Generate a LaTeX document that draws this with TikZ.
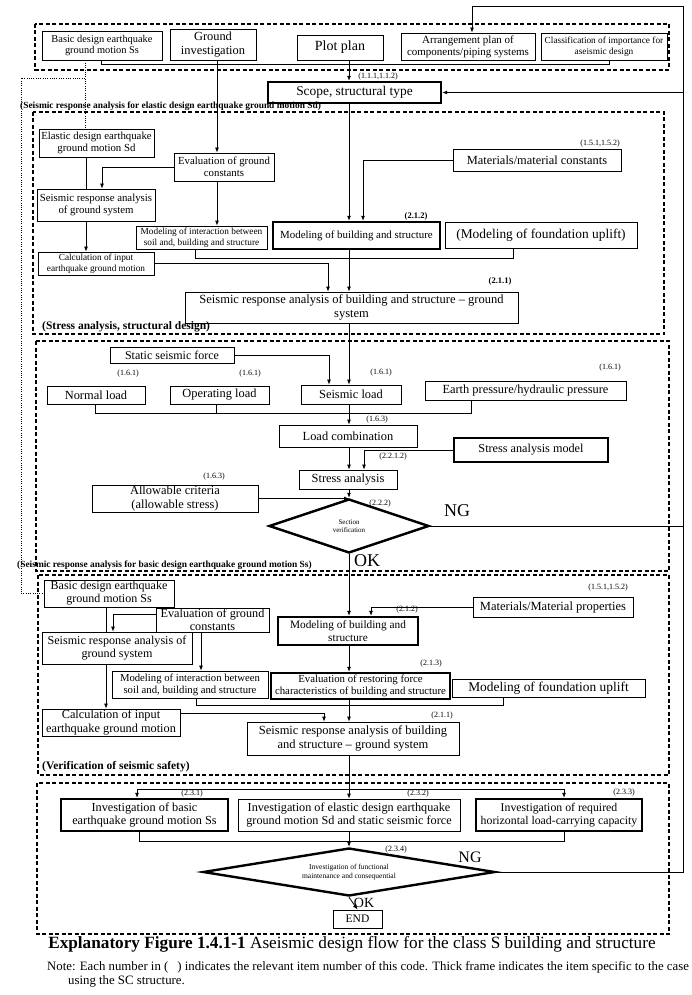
\documentclass[tikz,border=0pt]{standalone}
\usepackage{fontspec}
\setmainfont{Liberation Serif}
\usetikzlibrary{arrows.meta,shapes.geometric}
\newcommand\fs[2]{\fontsize{#1}{#2}\selectfont}
\newcommand\bx[7]{\node[#1, minimum width={(#5-#3)*1pt}, minimum height={(#6-#4)*1pt}] (#2) at ({(#3+#5)/2},{(#4+#6)/2}) {#7};}
\begin{document}
\begin{tikzpicture}[x=1pt,y=-1pt,
  bx/.style={draw,line width=0.8pt,align=center,inner sep=0pt,fill=white},
  tk/.style={draw,line width=2.4pt,align=center,inner sep=0pt,fill=white},
  cn/.style={line width=0.8pt},
  ar/.style={line width=0.8pt,-{Latex[length=5pt,width=4pt]}},
  dbox/.style={line width=1.3pt,dash pattern=on 4pt off 2.5pt},
  dt/.style={line width=0.7pt,dash pattern=on 1pt off 1.3pt},
  lbl/.style={inner sep=0pt,font=\fs{8}{9}},
  blbl/.style={inner sep=0pt,font=\bfseries\fs{9.4}{10},anchor=west},
  big/.style={inner sep=0pt,font=\fs{18}{20}},
  dia/.style={diamond,draw,line width=2.4pt,fill=white,inner sep=0pt,align=center},
]
\useasboundingbox (0,0) rectangle (691,995);
\fill[white] (0,0) rectangle (691,995);

% frames
\draw[dbox] (35,24) rectangle (669,70);
\draw[dbox] (33,112) rectangle (664,334);
\draw[dbox] (36,341) rectangle (669,571);
\draw[dbox] (38,575) rectangle (669,775);
\draw[dbox] (37,783) rectangle (669,934);

% ---------- top row
\bx{bx,font=\fs{10.4}{11.6}}{B1}{42}{31}{162}{60}{Basic design earthquake\\ground motion Ss}
\bx{bx,font=\fs{12.4}{13.4}}{B2}{170}{29}{256}{60}{Ground\\investigation}
\bx{bx,font=\fs{14}{15}}{B3}{297}{35}{383}{60}{Plot plan}
\bx{bx,font=\fs{11}{12}}{B4}{401}{33}{535}{60}{Arrangement plan of\\components/piping systems}
\bx{bx,font=\fs{9.3}{11}}{B5}{541}{33}{667}{60}{Classification of importance for\\aseismic design}
\bx{tk,font=\fs{13.4}{14}}{Sc}{268}{82}{441}{103}{Scope, structural type}
\node[lbl] (lA) at (378,77) {(1.1.1,1.1.2)};

\draw[cn] (101,0 |- B1.south) -- (101,64) -- (609,64) -- (609,0 |- B5.south);
\draw[ar] (349,0 |- B3.south) -- (349,0 |- Sc.north);

% ---------- Sd section
\node[blbl] (tSd) at (20,106) {(Seismic response analysis for elastic design earthquake ground motion Sd)};
\bx{bx,font=\fs{10.8}{12}}{El}{39}{129}{154}{157}{Elastic design earthquake\\ground motion Sd}
\bx{bx,font=\fs{10.8}{12}}{Ev}{174}{153}{274}{181}{Evaluation of ground\\constants}
\bx{bx,font=\fs{10.8}{12.5}}{SG}{37}{189}{155}{221}{Seismic response analysis\\of ground system}
\bx{bx,font=\fs{9.3}{10.5}}{Ca}{38}{252}{154}{275}{Calculation of input\\earthquake ground motion}
\bx{bx,font=\fs{9.3}{10.5}}{MI}{136}{226}{267}{249}{Modeling of interaction between\\soil and, building and structure}
\bx{tk,font=\fs{10.9}{12}}{MB}{273}{222}{440}{249}{Modeling of building and structure}
\bx{bx,font=\fs{12.4}{13}}{Ma}{453}{149}{621}{171}{Materials/material constants}
\bx{bx,font=\fs{13.4}{14}}{MF}{445}{222}{637}{248}{(Modeling of foundation uplift)}
\bx{bx,font=\fs{12.5}{13.5}}{SB}{185}{292}{518}{323}{Seismic response analysis of building and structure – ground\\system}
\node[lbl,anchor=east] (lB) at (620,144) {(1.5.1,1.5.2)};
\node[lbl,font=\bfseries\fs{8.5}{9}] (lC) at (416,216) {(2.1.2)};
\node[lbl,font=\bfseries\fs{8.5}{9}] (lD) at (500,281) {(2.1.1)};
\node[inner sep=0pt,font=\bfseries\fs{11.5}{12},anchor=west] (tSt) at (42,327) {(Stress analysis, structural design)};

\draw[ar] (217,0 |- B2.south) -- (217,0 |- Ev.north);
\draw[cn] (86,0 |- El.south) -- (86,0 |- SG.north);
\draw[ar] (Ev.west) -| (102,0 |- SG.north);
\draw[ar] (86,0 |- SG.south) -- (86,0 |- Ca.north);
\draw[ar] (217,0 |- Ev.south) -- (217,0 |- MI.north);
\draw[cn] (195,0 |- MI.south) -- (195,258) -- (513,258) -- (513,0 |- MF.south);
\draw[ar] (Ca.east) -| (328,0 |- SB.north);
\draw[ar] (349,0 |- Sc.south) -- (349,0 |- MB.north);
\draw[ar] (Ma.west) -| (363,0 |- MB.north);
\draw[ar] (349,0 |- MB.south) -- (349,0 |- SB.north);

% ---------- Stress section
\bx{bx,font=\fs{12}{13}}{SS}{110}{347}{234}{363}{Static seismic force}
\bx{bx,font=\fs{12.4}{13}}{NL}{47}{386}{145}{404}{Normal load}
\bx{bx,font=\fs{12.4}{13}}{OL}{170}{386}{269}{404}{Operating load}
\bx{bx,font=\fs{12.4}{13}}{SL}{301}{385}{401}{404}{Seismic load}
\bx{bx,font=\fs{12.4}{13}}{EP}{425}{381}{626}{400}{Earth pressure/hydraulic pressure}
\bx{bx,font=\fs{12.4}{13}}{LC}{279}{425}{417}{447}{Load combination}
\bx{tk,font=\fs{12.2}{13}}{SM}{454}{438}{608}{462}{Stress analysis model}
\bx{bx,font=\fs{12.4}{13}}{SA}{299}{470}{397}{489}{Stress analysis}
\bx{bx,font=\fs{12.4}{13.5}}{AC}{92}{485}{258}{512}{Allowable criteria\\(allowable stress)}
\node[dia,shape aspect=3,minimum width=160pt,minimum height=54pt,font=\fs{7}{8.5}] (D1) at (349,526) {Section\\verification};
\node[lbl] (lE) at (128,374) {(1.6.1)};
\node[lbl] (lF) at (250,374) {(1.6.1)};
\node[lbl] (lG) at (381,373) {(1.6.1)};
\node[lbl] (lH) at (610,368) {(1.6.1)};
\node[lbl] (lI) at (377,420) {(1.6.3)};
\node[lbl] (lJ) at (393,457) {(2.2.1.2)};
\node[lbl] (lK) at (214,477) {(1.6.3)};
\node[lbl] (lL) at (380,504) {(2.2.2)};
\node[big] (NG1) at (457,511) {NG};
\node[big] (OK1) at (367,561) {OK};

\draw[ar] (349,0 |- SB.south) -- (349,0 |- SL.north);
\draw[ar] (SS.east) -| (329,0 |- SL.north);
\draw[cn] (95,0 |- NL.south) -- (95,413) -- (471,413) -- (471,0 |- EP.south);
\draw[cn] (216,0 |- OL.south) -- (216,413);
\draw[ar] (349,0 |- SL.south) -- (349,0 |- LC.north);
\draw[ar] (349,0 |- LC.south) -- (349,0 |- SA.north);
\draw[ar] (SM.west) -| (364,0 |- SA.north);
\draw[ar] (349,0 |- SA.south) -- (D1.north);
\draw[ar] (AC.east) -- (AC.east -| D1.north);

% ---------- Ss section
\node[blbl] (tSs) at (17,565) {(Seismic response analysis for basic design earthquake ground motion Ss)};
\bx{bx,font=\fs{12}{13}}{BSs}{44}{580}{174}{607}{Basic design earthquake\\ground motion Ss}
\bx{bx,font=\fs{12.5}{13}}{Mas}{473}{597}{633}{617}{Materials/Material properties}
\bx{tk,font=\fs{11.3}{13}}{MBs}{278}{617}{418}{645}{Modeling of building and\\structure}
\bx{bx,font=\fs{12.2}{12.5}}{EvS}{156}{608}{269}{632}{Evaluation of ground\\constants}
\bx{bx,font=\fs{12.1}{13.5}}{SGs}{42}{632}{192}{664}{Seismic response analysis of\\ground system}
\bx{bx,font=\fs{10.7}{12}}{MIs}{112}{671}{268}{698}{Modeling of interaction between\\soil and, building and structure}
\bx{tk,font=\fs{10.8}{12}}{ER}{271}{673}{450}{699}{Evaluation of restoring force\\characteristics of building and structure}
\bx{bx,font=\fs{13.4}{14}}{MFs}{452}{679}{645}{697}{Modeling of foundation uplift}
\bx{bx,font=\fs{12.3}{13.2}}{CaS}{42}{709}{180}{736}{Calculation of input\\earthquake ground motion}
\bx{bx,font=\fs{12.5}{14}}{SBs}{247}{722}{459}{755}{Seismic response analysis of building\\and structure – ground system}
\node[lbl,anchor=east] (lM) at (628,588) {(1.5.1,1.5.2)};
\node[lbl] (lN) at (407,610) {(2.1.2)};
\node[lbl] (lO) at (431,664) {(2.1.3)};
\node[lbl] (lP) at (442,716) {(2.1.1)};
\node[inner sep=0pt,font=\bfseries\fs{11.5}{12},anchor=west] (tVf) at (42,767) {(Verification of seismic safety)};

\draw[ar] (D1.south) -- (349,0 |- MBs.north);
\draw[ar] (Mas.west) -| (371,0 |- MBs.north);
\draw[ar] ([yshift=6pt]EvS.west) -| (113,0 |- SGs.north);
\draw[cn] (106,0 |- BSs.south) -- (106,0 |- SGs.north);
\draw[ar] (201,0 |- EvS.south) -- (201,0 |- MIs.north);
\draw[ar] (106,0 |- SGs.south) -- (106,0 |- CaS.north);
\draw[ar] (349,0 |- MBs.south) -- (349,0 |- ER.north);
\draw[cn] (196,0 |- MIs.south) -- (196,705) -- (503,705) -- (503,0 |- MFs.south);
\draw[ar] ([yshift=9pt]CaS.east) -| (324,0 |- SBs.north);
\draw[ar] (349,0 |- ER.south) -- (349,0 |- SBs.north);

% ---------- verification
\bx{tk,font=\fs{12.3}{13.5}}{I1}{61}{799}{228}{831}{Investigation of basic\\earthquake ground motion Ss}
\bx{bx,font=\fs{12.2}{13.5}}{I2}{238}{799}{460}{831}{Investigation of elastic design earthquake\\ground motion Sd and static seismic force}
\bx{tk,font=\fs{11.8}{13.5}}{I3}{476}{799}{642}{831}{Investigation of required\\horizontal load-carrying capacity}
\node[dia,shape aspect=6,minimum width=292pt,minimum height=48pt,font=\fs{7.5}{9}] (D2) at (349,872) {Investigation of functional\\maintenance and consequential};
\bx{bx,font=\fs{11.5}{12}}{EN}{333}{910}{382}{928}{END}
\node[lbl] (lQ) at (192,794) {(2.3.1)};
\node[lbl] (lR) at (418,794) {(2.3.2)};
\node[lbl] (lS) at (624,793) {(2.3.3)};
\node[lbl] (lT) at (396,850) {(2.3.4)};
\node[inner sep=0pt,font=\fs{16}{17}] (NG2) at (470,857) {NG};
\node[inner sep=0pt,font=\fs{14}{15}] (OK2) at (364,903) {OK};

\coordinate (busL) at (137,789);
\coordinate (busR) at (564,789);
\draw[cn] (349,0 |- SBs.south) -- (349,789);
\draw[cn] (busL) -- (busR);
\draw[ar] (busL) -- (busL |- I1.north);
\draw[ar] (busR) -- (busR |- I3.north);
\draw[ar] (349,789) -- (349,0 |- I2.north);
\draw[cn] (139,0 |- I1.south) -- (139,841) -- (564,841) -- (564,0 |- I3.south);
\draw[ar] (349,0 |- I2.south) -- (D2.north);
\draw[ar] (D2.south) -- (EN.north);

% ---------- feedback loops
\coordinate (fbTR) at (683,6);
\coordinate (fbTL) at (472,6);
\draw[cn] (D2.east) -- (fbTR |- D2.east) -- (fbTR) -- (fbTL);
\draw[ar] (fbTL) -- (fbTL |- B4.north);
\draw[ar] (fbTR |- Sc.east) -- (Sc.east);
\draw[cn] (D1.east) -- (fbTR |- D1.east);

% ---------- dotted links
\draw[dt] (85,0 |- B1.south) -- (85,0 |- El.north);
\draw[dt] (85,78) -- (21,78) -- (21,0 |- BSs.west) -- (BSs.west);

% ---------- caption
\node[inner sep=0pt,font=\fs{17.2}{19}] (cap) at (352,944) {\textbf{Explanatory Figure 1.4.1-1} Aseismic design flow for the class S building and structure};
\node[inner sep=0pt,font=\fs{12.8}{14},anchor=west] (nt1) at (47,967) {Note: Each number in (\hspace{9pt}) indicates the relevant item number of this code. Thick frame indicates the item specific to the case};
\node[inner sep=0pt,font=\fs{12.8}{14},anchor=west] (nt2) at (68,981) {using the SC structure.};
\end{tikzpicture}
\end{document}
